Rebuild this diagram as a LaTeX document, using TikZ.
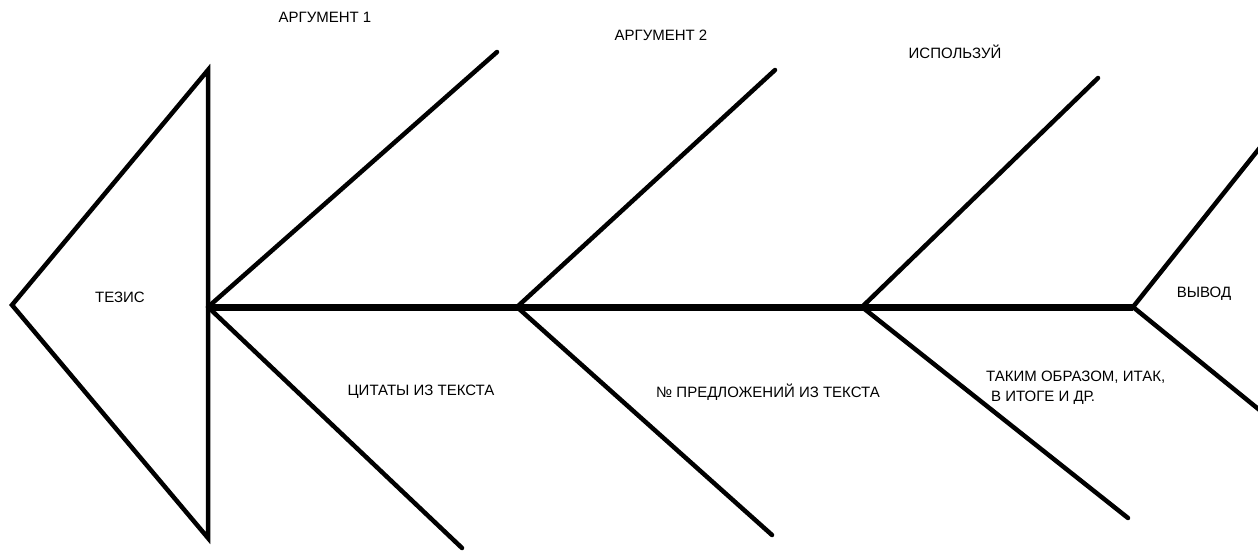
\documentclass[tikz,border=0pt]{standalone}
\usepackage{fontspec}
\setmainfont{Liberation Sans}
\begin{document}
\begin{tikzpicture}[x=1pt,y=-1pt,
  bone/.style={line width=4.5pt,line cap=round},
  spine/.style={line width=7pt},
  lbl/.style={inner sep=0pt,font=\fontsize{15}{18}\selectfont}]
\useasboundingbox (0,0) rectangle (1258,550);
% head
\coordinate (tip) at (12,305);
\coordinate (top) at (208,70);
\coordinate (bot) at (208,538);
\draw[bone,line join=miter] (top) -- (tip) -- (bot) -- cycle;
% spine nodes
\coordinate (n1) at (208,307);
\coordinate (n2) at (517,307);
\coordinate (n3) at (862,307);
\coordinate (n4) at (1133,307);
\draw[spine] (n1) -- (n2) -- (n3) -- (n4);
% bones
\coordinate (u1) at (497,52);
\coordinate (d1) at (462,548);
\coordinate (u2) at (775,70);
\coordinate (d2) at (772,535);
\coordinate (u3) at (1098,78);
\coordinate (d3) at (1128,518);
\coordinate (u4) at (1262,145);
\coordinate (d4) at (1262,412);
\draw[bone] (n1) -- (u1);
\draw[bone] (n1) -- (d1);
\draw[bone] (n2) -- (u2);
\draw[bone] (n2) -- (d2);
\draw[bone] (n3) -- (u3);
\draw[bone] (n3) -- (d3);
\draw[bone] (n4) -- (u4);
\draw[bone] (n4) -- (d4);
% labels
\node[lbl] (tezis) at (120,297) {ТЕЗИС};
\node[lbl] (arg1) at (325,17) {АРГУМЕНТ 1};
\node[lbl] (arg2) at (661,35) {АРГУМЕНТ 2};
\node[lbl] (isp) at (955,52) {ИСПОЛЬЗУЙ};
\node[lbl] (vyvod) at (1204,294) {ВЫВОД};
\node[lbl] (cit) at (421,392) {ЦИТАТЫ ИЗ ТЕКСТА};
\node[lbl] (pred) at (768,392) {№ ПРЕДЛОЖЕНИЙ ИЗ ТЕКСТА};
\node[lbl,anchor=west] (tak1) at (986,377) {ТАКИМ ОБРАЗОМ, ИТАК,};
\node[lbl,anchor=west] (tak2) at (991,398) {В ИТОГЕ И ДР.};
\end{tikzpicture}
\end{document}
